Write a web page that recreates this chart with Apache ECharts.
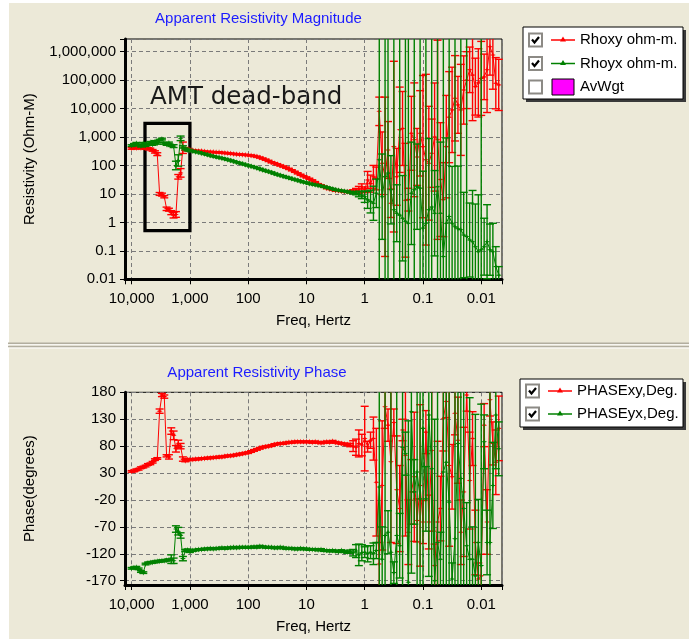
<!DOCTYPE html>
<html><head><meta charset="utf-8">
<script src="https://cdn.jsdelivr.net/npm/echarts@6/dist/echarts.min.js"></script>
<style>html,body{margin:0;padding:0;background:#fff;}#c{width:689px;height:639px;}</style>
</head><body><div id="c"></div><script>
// ---------------- DATA ----------------
const freqHz = [
 10000,9120,8318,7586,6918,6310,5754,5248,4786,4365,3981,3631,3311,3020,2754,2512,2291,2089,1905,1738,1585,1445,1318,1202,1096,
 1000,891,794,708,631,562,501,447,398,355,316,282,251,224,200,178,158,141,126,112,100,89.1,79.4,70.8,63.1,56.2,50.1,44.7,39.8,35.5,31.6,28.2,25.1,22.4,20.0,17.8,15.8,14.1,12.6,11.2,10,8.91,7.94,7.08,6.31,5.62,5.01,4.47,3.98,3.55,3.16,2.82,2.51,2.24,2.00,1.78,1.58,1.41,1.26,1.12,
 1.0,0.891,0.794,0.708,0.631,0.562,0.501,0.447,0.398,0.355,0.316,0.282,0.251,0.224,0.200,0.178,0.158,0.141,0.126,0.112,0.100,0.0891,0.0794,0.0708,0.0631,0.0562,0.0501,0.0447,0.0398,0.0355,0.0316,0.0282,0.0251,0.0224,0.0200,0.0178,0.0158,0.0141,0.0126,0.0112,0.0100,0.00891,0.00794,0.00708,0.00631,0.00562,0.00501
];
// Apparent resistivity (ohm-m)
const rhoxy = [
 400,420,410,430,410,420,400,390,380,340,300,250,10,9.5,8,3,2.8,2.2,1.8,1.9,40,55,420,380,360,
 350,340,330,325,320,310,300,300,295,290,290,280,275,270,262,255,250,245,240,236,230,225,215,205,190,175,160,145,130,120,110,100,92,84,76,68,60,53,47,42,38,34,30,26,22,20,18,16,15,14,13,13,12.5,12,12,12,12.5,13,14,16,
 14,31,23,40,35,8000,120,40,350,4.7,460,40,1800,2000,6,6.3,1350,800,200,1350,460,160,120,270,1000,800,32,6.3,460,5000,9000,23000,13500,9000,45000,100000,230000,150000,59000,80000,115000,130000,230000,1500000,760000,78000,68000
];
// error half-width, in decades
const rhoxyErr = [
 0.03,0.03,0.03,0.03,0.03,0.03,0.03,0.03,0.03,0.03,0.04,0.05,0.05,0.05,0.04,0.06,0.05,0.07,0.1,0.1,0.08,0.15,0.2,0.05,0.04,
 0.02,0.02,0.02,0.02,0.02,0.02,0.02,0.02,0.02,0.02,0.02,0.02,0.02,0.02,0.02,0.02,0.02,0.02,0.02,0.02,0.02,0.02,0.02,0.02,0.02,0.02,0.02,0.02,0.02,0.02,0.02,0.02,0.02,0.02,0.02,0.02,0.02,0.02,0.02,0.02,0.02,0.02,0.02,0.02,0.02,0.02,0.02,0.02,0.02,0.02,0.02,0.02,0.02,0.02,0.03,0.04,0.05,0.08,0.12,0.15,
 0.1,0.3,0.3,0.4,0.4,0.5,1.1,2.8,1.0,0.5,3.0,1.0,1.5,1.3,2.0,0.4,1.3,2.0,1.0,1.5,2.5,3.0,2.0,1.2,1.9,3.5,2.0,1.3,1.8,1.6,1.5,1.5,1.0,1.6,1.2,1.0,0.8,1.6,1.0,1.2,1.3,0.8,1.5,1.0,1.2,0.9,0.9
];
const rhoyx = [
 500,550,600,520,480,600,500,560,650,550,700,600,780,850,600,550,620,500,480,100,150,900,450,380,350,
 330,320,300,290,270,255,240,225,210,200,190,180,170,160,150,140,130,122,115,107,100,94,88,82,76,70,65,61,57,52,48,45,42,39,37,34,32,30,28,26,25,23,22,21,20,19,18,17,16,15,14,13.5,13,12.5,12,11.5,11,10.5,10,9,
 8,6.2,5.4,4.7,10.5,160,8,40,54,14,2.8,2.1,1.8,1.4,1.1,0.93,10.5,14,18,16,0.63,0.93,2.8,3.5,2.1,18,2.1,0.063,0.93,1.6,0.93,0.7,0.6,0.55,0.36,0.32,0.24,0.21,0.14,0.093,0.11,0.14,0.21,0.11,0.093,0.028,0.014
];
const rhoyxErr = [
 0.03,0.03,0.03,0.03,0.03,0.03,0.03,0.03,0.03,0.03,0.03,0.03,0.03,0.03,0.03,0.03,0.03,0.03,0.05,0.15,0.2,0.08,0.04,0.03,0.03,
 0.02,0.02,0.02,0.02,0.02,0.02,0.02,0.02,0.02,0.02,0.02,0.02,0.02,0.02,0.02,0.02,0.02,0.02,0.02,0.02,0.02,0.02,0.02,0.02,0.02,0.02,0.02,0.02,0.02,0.02,0.02,0.02,0.02,0.02,0.02,0.02,0.02,0.02,0.02,0.02,0.02,0.02,0.02,0.02,0.02,0.02,0.02,0.02,0.02,0.02,0.02,0.02,0.02,0.02,0.02,0.03,0.04,0.05,0.1,0.12,
 0.2,0.3,0.4,0.6,0.5,6,1.5,8,8,1.2,8,1.0,8,1.5,8,8,1.8,8,1.5,8,2.0,8,2.5,8,1.5,8,2.5,8,3,8,2,8,2.2,8,1.5,8,1.3,1.8,1.5,2,8,1.0,1.3,0.9,1.0,0.7,0.3
];
// Phase (degrees)
const phaseXy = [
 33,34,36,37,40,41,43,46,47,50,55,57,145,175,172,62,60,108,100,75,84,80,56,53,55,
 55,55,56,56,57,57,58,58,59,59,60,60,61,62,62,63,64,65,66,67,68,70,72,74,76,78,79,80,81,83,84,85,85,86,87,87,88,88,88,88,88,88,87,88,87,86,87,88,87,89,87,86,85,84,83,82,80,78,85,82,
 94,79,91,94,13,-139,7,153,119,51,124,-1,-36,110,63,-80,-5,23,-58,7,-61,106,-61,72,-142,-61,-36,131,163,44,23,141,91,-80,-5,175,16,94,-99,-167,-161,119,-61,166,85,50,113
];
const phaseXyErr = [
 1.5,1.5,1.5,1.5,1.5,1.5,1.5,1.5,1.5,1.5,1.5,1.5,4,3,3,2,4,6,8,6,7,5,4,2,2,
 1.5,1.5,1.5,1.5,1.5,1.5,1.5,1.5,1.5,1.5,1.5,1.5,1.5,1.5,1.5,1.5,1.5,1.5,1.5,1.5,1.5,1.5,1.5,1.5,1.5,1.5,1.5,1.5,1.5,1.5,1.5,1.5,1.5,1.5,1.5,1.5,1.5,1.5,1.5,1.5,1.5,1.5,1.5,1.5,1.5,1.5,1.5,1.5,1.5,1.5,1.5,1.5,1.5,1.5,2,3,10,15,25,20,
 60,10,15,40,100,40,120,40,30,150,25,100,80,20,150,60,60,120,40,150,40,40,50,150,40,150,60,60,30,150,60,40,80,60,120,30,90,50,60,30,40,40,60,30,40,60,60
];
const phaseYx = [
 -147,-146,-145,-148,-153,-155,-139,-137,-136,-136,-135,-134,-134,-133,-133,-132,-131,-130,-133,-74,-78,-86,-129,-114,-113,
 -116,-114,-113,-112,-112,-111,-111,-110,-111,-110,-110,-109,-110,-109,-109,-108,-109,-108,-108,-108,-108,-108,-107,-108,-106,-107,-108,-108,-108,-109,-109,-108,-109,-110,-110,-110,-111,-111,-110,-111,-111,-112,-112,-112,-113,-112,-114,-114,-115,-114,-115,-116,-114,-116,-117,-116,-118,-115,-122,-118,
 -117,-120,-117,-120,-114,4,-130,-86,-80,-117,-155,-86,-105,78,66,-173,144,-5,32,-18,113,-18,138,38,-170,-99,-130,32,50,-24,-167,-92,85,20,-36,-105,-130,-130,-161,-99,-142,88,-99,-99,7,138,75
];
const phaseYxErr = [
 1.5,1.5,1.5,1.5,1.5,1.5,1.5,1.5,1.5,1.5,1.5,1.5,1.5,1.5,1.5,1.5,1.5,8,5,6,7,5,4,2,2,
 1.5,1.5,1.5,1.5,1.5,1.5,1.5,1.5,1.5,1.5,1.5,1.5,1.5,1.5,1.5,1.5,1.5,1.5,1.5,1.5,1.5,1.5,1.5,1.5,1.5,1.5,1.5,1.5,1.5,1.5,1.5,1.5,1.5,1.5,1.5,1.5,1.5,1.5,1.5,1.5,1.5,1.5,1.5,1.5,1.5,1.5,1.5,1.5,1.5,1.5,1.5,1.5,1.5,1.5,2,3,6,12,20,15,
 10,15,12,20,15,300,60,300,40,300,20,300,60,300,40,300,300,60,300,300,300,60,300,300,300,300,50,300,300,300,30,300,300,300,300,80,300,60,300,80,300,50,60,300,80,100,50
];
const phaseTicks = [-170,-120,-70,-20,30,80,130,180];
const resLegend = ['Rhoxy ohm-m.','Rhoyx ohm-m.','AvWgt'];
const phaseLegend = ['PHASExy,Deg.','PHASEyx,Deg.'];
// annotation region (freq Hz, resistivity)
const deadBand = {fHigh: 5900, fLow: 1000, rTop: 3000, rBottom: 0.51};

// ---------------- CHART ----------------
const FONT = 'Liberation Sans';
const RED = '#ff0000', GREEN = '#008000';
const BG = '#ECE9D8';
const STAR = 'path://M5,0L6.3,3.7L10,5L6.3,6.3L5,10L3.7,6.3L0,5L3.7,3.7Z';

function commas(n){ return String(n).replace(/\B(?=(\d{3})+(?!\d))/g, ','); }
function logLabel(v){
  const l = Math.log10(v);
  if (Math.abs(l - Math.round(l)) > 1e-6) return '';
  const n = Math.pow(10, Math.round(l));
  return n >= 1 ? commas(Math.round(n)) : String(Number(n.toPrecision(3)));
}
function lineData(vals){ return freqHz.map((f,i)=>[f, vals[i]]); }
function errLog(vals, errs){ return freqHz.map((f,i)=>[f, vals[i]/Math.pow(10,errs[i]), vals[i]*Math.pow(10,errs[i])]); }
function errLin(vals, errs){ return freqHz.map((f,i)=>[f, vals[i]-errs[i], vals[i]+errs[i]]); }

function errRender(color){
  return function(params, api){
    const x = api.value(0);
    const p1 = api.coord([x, api.value(1)]);
    const p2 = api.coord([x, api.value(2)]);
    const cs = params.coordSys;
    const top = cs.y, bot = cs.y + cs.height;
    const yTop = Math.min(p1[1], p2[1]), yBot = Math.max(p1[1], p2[1]);
    const cy1 = Math.max(yTop, top), cy2 = Math.min(yBot, bot);
    if (!(cy2 > cy1)) return null;
    const px = p1[0], hw = 4;
    const st = {stroke: color, lineWidth: 1.4};
    const ch = [{type:'line', shape:{x1:px, y1:cy1, x2:px, y2:cy2}, style:st}];
    if (yTop >= top) ch.push({type:'line', shape:{x1:px-hw, y1:yTop, x2:px+hw, y2:yTop}, style:st});
    if (yBot <= bot) ch.push({type:'line', shape:{x1:px-hw, y1:yBot, x2:px+hw, y2:yBot}, style:st});
    return {type:'group', children: ch};
  };
}

const labelStyle = {color:'#000', fontFamily:FONT, fontSize:15};
const dash = {color:'#7a7a7a', type:[4,3], width:1};

function xAxisCfg(gi){
  return {
    type:'log', gridIndex:gi, logBase:10, min:0.0044, max:13000, inverse:true,
    name:'Freq, Hertz', nameLocation:'middle', nameGap:34, nameTextStyle:labelStyle,
    axisLine:{show:true, onZero:false, lineStyle:{color:'#000', width:3}},
    axisTick:{show:true, length:5, lineStyle:{color:'#000', width:1}},
    axisLabel:Object.assign({margin:12, formatter:logLabel}, labelStyle),
    splitLine:{show:true, lineStyle:dash}, minorTick:{show:false}
  };
}

const option = {
  backgroundColor: BG,
  animation: false,
  grid: [
    {left:125, top:39, width:377, height:240.3, show:true, borderColor:'#000', borderWidth:1, backgroundColor:'transparent'},
    {left:125, top:392.3, width:377, height:192.7, show:true, borderColor:'#000', borderWidth:1, backgroundColor:'transparent'}
  ],
  xAxis: [xAxisCfg(0), xAxisCfg(1)],
  yAxis: [
    { type:'log', gridIndex:0, logBase:10, min:0.01, max:2790000,
      name:'Resistivity (Ohm-M)', nameLocation:'middle', nameGap:88, nameRotate:90, nameTextStyle:labelStyle,
      axisLine:{show:true, lineStyle:{color:'#000', width:3}},
      axisTick:{show:true, length:5, lineStyle:{color:'#000'}},
      axisLabel:Object.assign({margin:9, formatter:logLabel}, labelStyle),
      splitLine:{show:true, lineStyle:dash} },
    { type:'value', gridIndex:1, min:-178, max:180,
      name:'Phase(degrees)', nameLocation:'middle', nameGap:88, nameRotate:90, nameTextStyle:labelStyle,
      axisLine:{show:true, lineStyle:{color:'#000', width:3}},
      axisTick:{show:true, length:5, lineStyle:{color:'#000'}, customValues: phaseTicks},
      axisLabel:Object.assign({margin:9, customValues: phaseTicks}, labelStyle),
      splitLine:{show:true, lineStyle:dash} }
  ],
  series: [
    {type:'custom', name:'rhoxyErr', xAxisIndex:0, yAxisIndex:0, renderItem:errRender(RED), data:errLog(rhoxy, rhoxyErr), encode:{x:0, y:[1,2]}, z:2, silent:true},
    {type:'line', name:resLegend[0], xAxisIndex:0, yAxisIndex:0, data:lineData(rhoxy), symbol:STAR, symbolSize:6, showAllSymbol:true,
      lineStyle:{color:RED, width:1}, itemStyle:{color:RED}, z:3,
      markArea:{silent:true, itemStyle:{color:'rgba(0,0,0,0)', borderColor:'#000', borderWidth:3.3},
        data:[[{coord:[deadBand.fHigh, deadBand.rTop]},{coord:[deadBand.fLow, deadBand.rBottom]}]]}},
    {type:'custom', name:'rhoyxErr', xAxisIndex:0, yAxisIndex:0, renderItem:errRender(GREEN), data:errLog(rhoyx, rhoyxErr), encode:{x:0, y:[1,2]}, z:4, silent:true},
    {type:'line', name:resLegend[1], xAxisIndex:0, yAxisIndex:0, data:lineData(rhoyx), symbol:STAR, symbolSize:6, showAllSymbol:true,
      lineStyle:{color:GREEN, width:1}, itemStyle:{color:GREEN}, z:5},
    {type:'custom', name:'phaseXyErr', xAxisIndex:1, yAxisIndex:1, renderItem:errRender(RED), data:errLin(phaseXy, phaseXyErr), encode:{x:0, y:[1,2]}, z:2, silent:true},
    {type:'line', name:phaseLegend[0], xAxisIndex:1, yAxisIndex:1, data:lineData(phaseXy), symbol:STAR, symbolSize:6, showAllSymbol:true,
      lineStyle:{color:RED, width:1}, itemStyle:{color:RED}, z:3},
    {type:'custom', name:'phaseYxErr', xAxisIndex:1, yAxisIndex:1, renderItem:errRender(GREEN), data:errLin(phaseYx, phaseYxErr), encode:{x:0, y:[1,2]}, z:4, silent:true},
    {type:'line', name:phaseLegend[1], xAxisIndex:1, yAxisIndex:1, data:lineData(phaseYx), symbol:STAR, symbolSize:6, showAllSymbol:true,
      lineStyle:{color:GREEN, width:1}, itemStyle:{color:GREEN}, z:5}
  ],
  graphic: []
};

// ----- decorations (titles, legends, divider) -----
const g = [];
g.push({type:'rect', shape:{x:0,y:0,width:9,height:639}, style:{fill:'#fff'}, z:-10, silent:true});
g.push({type:'rect', shape:{x:0,y:0,width:689,height:3}, style:{fill:'#fff'}, z:-10, silent:true});
// divider
g.push({type:'rect', shape:{x:8,y:342.5,width:681,height:1.6}, style:{fill:'#B2AE9F'}, silent:true});
g.push({type:'rect', shape:{x:8,y:344.1,width:681,height:1.4}, style:{fill:'#F7F6F1'}, silent:true});
g.push({type:'rect', shape:{x:8,y:345.8,width:681,height:1.6}, style:{fill:'#B2AE9F'}, silent:true});
g.push({type:'rect', shape:{x:8,y:347.4,width:681,height:1.2}, style:{fill:'#FFFFFF'}, silent:true});
// titles
function title(t, x, y){ return {type:'text', x:x, y:y, style:{text:t, fill:'#1c1cff', font:'15px "Liberation Sans"', align:'center', verticalAlign:'middle'}, silent:true}; }
g.push(title('Apparent Resistivity Magnitude', 258.5, 19));
g.push(title('Apparent Resistivity Phase', 257, 373));
g.push({type:'text', x:150, y:98, style:{text:'AMT dead-band', fill:'#1a1a1a', font:'24.5px "DejaVu Sans"', align:'left', verticalAlign:'middle'}, silent:true});

function legend(x0, y0, w, h, rows, items){
  g.push({type:'rect', shape:{x:x0+3, y:y0+3, width:w, height:h}, style:{fill:'#3a3a3a'}, silent:true, z:20});
  g.push({type:'rect', shape:{x:x0, y:y0, width:w, height:h}, style:{fill:'#fff', stroke:'#000', lineWidth:1}, silent:true, z:21});
  items.forEach((it, i) => {
    const cy = rows[i];
    const bx = x0 + 6, by = cy - 6.5;
    g.push({type:'rect', shape:{x:bx, y:by, width:13, height:13}, style:{fill:'#fff', stroke:'#8c8a85', lineWidth:2}, silent:true, z:22});
    if (it.checked) g.push({type:'polyline', shape:{points:[[bx+3,by+6],[bx+5.5,by+9],[bx+10,by+3.5]]}, style:{stroke:'#000', lineWidth:2.2, fill:null}, silent:true, z:23});
    const lx = x0 + 28;
    if (it.kind === 'line') {
      g.push({type:'line', shape:{x1:lx, y1:cy, x2:lx+24, y2:cy}, style:{stroke:it.color, lineWidth:1.5}, silent:true, z:22});
      g.push({type:'polygon', shape:{points:[[lx+12,cy-3.5],[lx+15,cy+1.5],[lx+9,cy+1.5]]}, style:{fill:it.color}, silent:true, z:23});
    } else {
      g.push({type:'rect', shape:{x:lx+1, y:cy-8, width:22, height:16}, style:{fill:it.color, stroke:'#000', lineWidth:1}, silent:true, z:22});
    }
    g.push({type:'text', x:lx+29, y:cy, style:{text:it.text, fill:'#000', font:'15px "Liberation Sans"', align:'left', verticalAlign:'middle'}, silent:true, z:22});
  });
}
legend(523, 27, 160, 72, [40, 63.5, 87], [
  {checked:true, kind:'line', color:RED, text:resLegend[0]},
  {checked:true, kind:'line', color:GREEN, text:resLegend[1]},
  {checked:false, kind:'rect', color:'#ff00ff', text:resLegend[2]}
]);
legend(520, 379, 163, 48, [391, 414], [
  {checked:true, kind:'line', color:RED, text:phaseLegend[0]},
  {checked:true, kind:'line', color:GREEN, text:phaseLegend[1]}
]);
option.graphic = {elements: g};

const chart = echarts.init(document.getElementById('c'), null, {renderer:'canvas'});
chart.setOption(option);
</script></body></html>
